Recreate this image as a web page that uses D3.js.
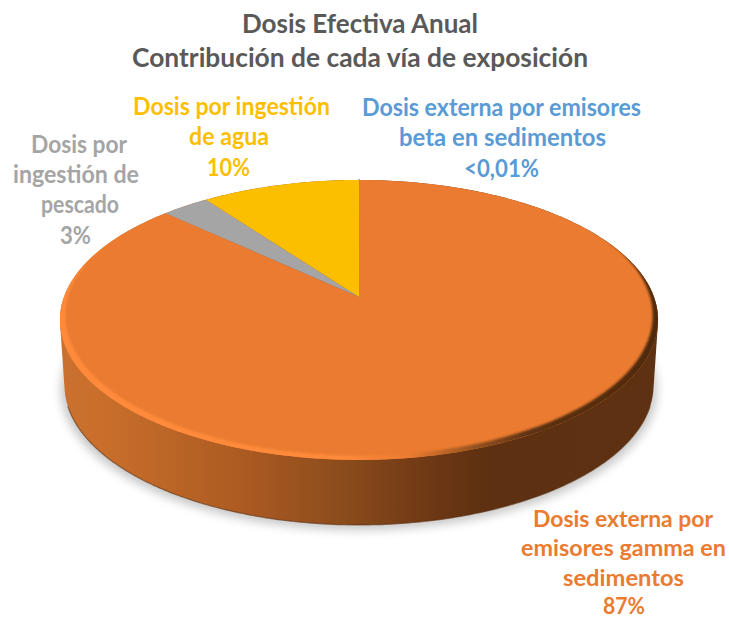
<!DOCTYPE html>
<html><head><meta charset="utf-8">
<script src="https://cdn.jsdelivr.net/npm/d3@7"></script>
<style>html,body{margin:0;padding:0;background:#fff}svg{display:block}text{font-family:Lato,"Open Sans",sans-serif;font-weight:700}</style>
</head><body><svg id="c" width="729" height="619"></svg>
<script>
// Data
const categories = ["Dosis externa por emisores beta en sedimentos","Dosis externa por emisores gamma en sedimentos","Dosis por ingestión de pescado","Dosis por ingestión de agua"];
const values = [0.01, 87, 3, 10];
const colors = ["#5b9bd5","#ea7b30","#a5a5a5","#fcbf00"];
const titleLines = ["Dosis Efectiva Anual","Contribución de cada vía de exposición"];
const labelBeta = ["Dosis externa por emisores","beta en sedimentos","<0,01%"];
const labelGamma = ["Dosis externa por","emisores gamma en","sedimentos","87%"];
const labelPescado = ["Dosis por","ingestión de","pescado","3%"];
const labelAgua = ["Dosis por ingestión","de agua","10%"];

// Layout
const W=729,H=619;
const svg=d3.select("#c");
const cx=359,cy=297,A=295,B=136.2,k=0.164,depth=65,baseScale=0.985;
const project=(t,r=1)=>{const u=r*Math.sin(t),v=r*Math.cos(t),w=1+k*v;return [cx+A*u/w,cy-B*v/w];};
const sampled=(a,b,n=240)=>d3.range(n+1).map(i=>a+(b-a)*i/n);
const line=d3.line();
const base=t=>{const p=project(t);return [cx+(p[0]-cx)*baseScale,p[1]+depth];};
const ring=sampled(0,2*Math.PI,360);
const topRing=ring.map(t=>project(t));
const baseRing=ring.map(base);

const defs=svg.append("defs");
const blur=(id,s)=>defs.append("filter").attr("id",id).attr("x","-10%").attr("y","-10%").attr("width","120%").attr("height","120%").append("feGaussianBlur").attr("stdDeviation",s);
blur("sh",5);blur("b1",1.1);
const grad=(id,stops)=>{const g=defs.append("linearGradient").attr("id",id).attr("gradientUnits","userSpaceOnUse").attr("x1",60).attr("x2",658).attr("y1",0).attr("y2",0);
  stops.forEach(s=>g.append("stop").attr("offset",(s[0]-60)/598).attr("stop-color",s[1]));};
grad("wall",[[60,"#cb7130"],[100,"#c96f2b"],[240,"#ad5b22"],[340,"#8c4c1c"],[440,"#6b3614"],[490,"#5c3011"],[658,"#5d3112"]]);
grad("rim",[[60,"#ff8a3b"],[340,"#ff8a3b"],[410,"#ea7b30"],[470,"#9a5522"],[530,"#5d3112"],[658,"#4f2a10"]]);
defs.append("clipPath").attr("id","topClip").append("path").attr("d",line(topRing)+"Z");

// shadow
svg.append("path").attr("d",line(baseRing.map(p=>[cx+(p[0]-cx)*1.012,p[1]+5]))+"Z").attr("fill","#9a9a9a").attr("opacity",0.55).attr("filter","url(#sh)");
// wall
svg.append("path").attr("d",line(d3.polygonHull(topRing.concat(baseRing)))+"Z").attr("fill","url(#wall)");
// bottom edge of the wall
svg.append("path").attr("d",line(sampled(Math.PI*0.6,Math.PI*1.4).map(base))).attr("fill","none").attr("stroke","#5c3011").attr("stroke-width",1.2).attr("opacity",0.6);

// slices
const pie=d3.pie().sort(null).startAngle(0).endAngle(2*Math.PI)(values);
svg.append("g").selectAll("path").data(pie).join("path")
  .attr("d",d=>{const n=Math.max(2,Math.ceil((d.endAngle-d.startAngle)*60));
    return line([[cx,cy],...sampled(d.startAngle,d.endAngle,n).map(t=>project(t))])+"Z";})
  .attr("fill",(d,i)=>colors[i])
  .attr("stroke",(d,i)=>i===0?colors[i]:"none")
  .attr("stroke-width",1.6);

// rim shading: everything outside a slightly smaller, raised copy of the top surface
const inner=topRing.map(p=>[cx+(p[0]-cx)*0.982,p[1]-4.5]);
svg.append("g").attr("clip-path","url(#topClip)").append("path")
  .attr("d",`M0,0H${W}V${H}H0Z`+line(inner)+"Z")
  .attr("fill-rule","evenodd")
  .attr("fill","url(#rim)").attr("filter","url(#b1)");

// text
const addText=(lines,ys,xs,fs,fill)=>svg.append("g").attr("fill",fill).attr("font-size",fs)
  .selectAll("text").data(lines).join("text")
  .text(d=>d).attr("y",(d,i)=>ys[i]).attr("x",(d,i)=>xs[i][0])
  .attr("textLength",(d,i)=>xs[i][1]-xs[i][0]).attr("lengthAdjust","spacingAndGlyphs");
addText(titleLines,[33,67],[[242,478],[132,588]],27,"#595959");
addText(labelAgua,[115,145,176],[[133,330],[189,269],[207,250]],24,colors[3]);
addText(labelBeta,[116,146,177],[[362,641],[399,606],[464,539]],24,colors[0]);
addText(labelPescado,[153,183,213,244],[[31,127],[13,139],[41,119],[60,91]],24,colors[2]);
addText(labelGamma,[527,556,586,614],[[533,713],[521,726],[563,684],[603,645]],23,colors[1]);
</script></body></html>
